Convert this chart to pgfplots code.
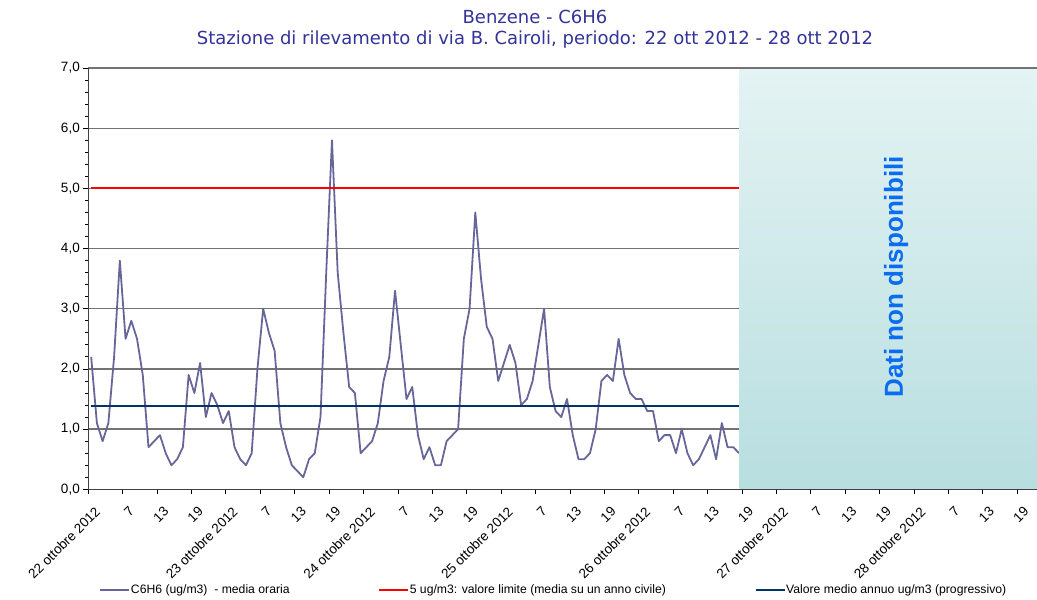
\documentclass[border=0pt]{standalone}
\usepackage{pgfplots}
\pgfplotsset{compat=1.18}
\usepackage{fontspec}
\setmainfont{Liberation Sans}
\newfontfamily\titlefont{DejaVu Sans}
\definecolor{serie}{HTML}{666699}
\definecolor{navyl}{HTML}{003366}
\definecolor{titlec}{HTML}{333399}
\definecolor{shtop}{HTML}{E4F3F3}
\definecolor{shbot}{HTML}{B8DEE0}
\definecolor{dati}{HTML}{0A6CF0}
\definecolor{gridc}{HTML}{737373}
\begin{document}
\begin{tikzpicture}
\begin{axis}[
  at={(0,0)}, anchor=south west,
  scale only axis,
  width=963.2pt, height=421.3pt,
  xmin=0, xmax=168, ymin=0, ymax=7,
  axis x line*=bottom, axis y line*=left,
  axis line style={black!75, line width=1pt},
  tick align=outside,
  major tick length=5pt, minor tick length=3pt,
  tick style={black, line width=0.8pt},
  ytick={0,1,...,7}, minor y tick num=4,
  xtick={0,6,...,162},
  xticklabels={22 ottobre 2012,7,13,19,23 ottobre 2012,7,13,19,24 ottobre 2012,7,13,19,25 ottobre 2012,7,13,19,26 ottobre 2012,7,13,19,27 ottobre 2012,7,13,19,28 ottobre 2012,7,13,19},
  xticklabel style={rotate=45, anchor=north east, font=\fontsize{13.5}{14}\selectfont, inner sep=1pt, xshift=-3pt, yshift=-11pt},
  yticklabel style={font=\fontsize{13.5}{14}\selectfont},
  /pgf/number format/.cd, use comma, fixed, fixed zerofill, precision=1, assume math mode=true,
  /pgfplots/.cd,
  ymajorgrids,
  major grid style={gridc, line width=1.3pt},
  legend columns=3,
  legend style={at={(0.4830,-0.239)}, anchor=center, draw=none, fill=none,
    font=\fontsize{12.2}{13}\selectfont,
    nodes={inner xsep=1pt},
    /tikz/every even column/.append style={column sep=88pt}},
  legend image code/.code={\draw[#1, line width=1.2pt] (0pt,0pt) -- (29pt,0pt);},
]
\addplot[serie, line width=1.8pt, line join=round] table[x expr=\thisrow{k}-0.5, y=v] {
k v
1 2.2
2 1.1
3 0.8
4 1.1
5 2.2
6 3.8
7 2.5
8 2.8
9 2.5
10 1.9
11 0.7
12 0.8
13 0.9
14 0.6
15 0.4
16 0.5
17 0.7
18 1.9
19 1.6
20 2.1
21 1.2
22 1.6
23 1.4
24 1.1
25 1.3
26 0.7
27 0.5
28 0.4
29 0.6
30 2.0
31 3.0
32 2.6
33 2.3
34 1.1
35 0.7
36 0.4
37 0.3
38 0.2
39 0.5
40 0.6
41 1.2
42 3.6
43 5.8
44 3.6
45 2.6
46 1.7
47 1.6
48 0.6
49 0.7
50 0.8
51 1.1
52 1.8
53 2.2
54 3.3
55 2.4
56 1.5
57 1.7
58 0.9
59 0.5
60 0.7
61 0.4
62 0.4
63 0.8
64 0.9
65 1.0
66 2.5
67 3.0
68 4.6
69 3.5
70 2.7
71 2.5
72 1.8
73 2.1
74 2.4
75 2.1
76 1.4
77 1.5
78 1.8
79 2.4
80 3.0
81 1.7
82 1.3
83 1.2
84 1.5
85 0.9
86 0.5
87 0.5
88 0.6
89 1.0
90 1.8
91 1.9
92 1.8
93 2.5
94 1.9
95 1.6
96 1.5
97 1.5
98 1.3
99 1.3
100 0.8
101 0.9
102 0.9
103 0.6
104 1.0
105 0.6
106 0.4
107 0.5
108 0.7
109 0.9
110 0.5
111 1.1
112 0.7
113 0.7
114 0.6
};
\addlegendentry{C6H6 (ug/m3)\ \ - media oraria}
\addplot[red, line width=1.8pt] coordinates {(0.5,5) (113.5,5)};
\addlegendentry{5 ug/m3: valore limite (media su un anno civile)}
\addplot[navyl, line width=1.8pt] coordinates {(0.5,1.38) (113.5,1.38)};
\addlegendentry{Valore medio annuo ug/m3 (progressivo)}
\fill[top color=shtop, bottom color=shbot] (axis cs:113.6,0.02) rectangle (axis cs:168,6.97);
\node[rotate=90, text=dati, font=\bfseries\fontsize{26}{26}\selectfont] at (axis cs:140.9,3.53) {Dati non disponibili};
\end{axis}
\node[text=titlec, font=\titlefont\fontsize{18}{18}\selectfont] at (446.7pt,472.3pt) {Benzene - C6H6};
\node[text=titlec, font=\titlefont\fontsize{18}{18}\selectfont] at (446.7pt,449.3pt) {Stazione di rilevamento di via B. Cairoli, periodo: 22 ott 2012 - 28 ott 2012};
\pgfresetboundingbox
\path (-88.3pt,-110.7pt) rectangle (948.7pt,489.3pt);
\end{tikzpicture}
\end{document}
